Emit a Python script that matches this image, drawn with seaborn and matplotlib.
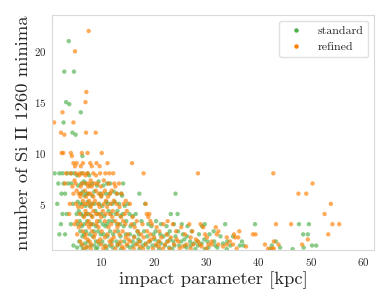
import matplotlib
matplotlib.use('Agg')
import matplotlib.pyplot as plt
from matplotlib.lines import Line2D
import pandas as pd
import seaborn as sns

# impact parameter [kpc] per number of Si II 1260 minima
standard_rows = {
    21: [3.7],
    18: [2.85, 4.7],
    15: [3.2],
    14.8: [3.8],
    14: [6.0],
    13: [2.7],
    12: [4.4],
    11.8: [5.0],
    9.7: [6.3],
    8: [1.0, 1.9, 2.5, 3.4, 4.1, 4.7, 6.2, 7.3],
    7.8: [7.6, 5.3],
    7.2: [6.6, 9.4],
    7: [1.7, 2.7, 3.6, 4.2, 6.1, 6.9, 8.2, 11.0, 11.6, 14.1],
    6.8: [5.5, 7.7, 9.1, 10.3],
    6.2: [6.4, 8.6, 12.3],
    6: [2.3, 3.0, 5.9, 7.1, 7.4, 9.7, 10.8, 11.5, 12.9, 13.7, 17.2, 24.1],
    5.8: [6.7, 8.2, 13.9, 9.9],
    5.2: [5.4, 7.3, 10.9, 12.5],
    5: [1.5, 4.5, 5.9, 6.3, 8.0, 8.6, 9.5, 11.2, 12.0, 13.3, 15.0, 18.3],
    4.8: [6.9, 7.7, 10.1, 14.4],
    4.3: [5.6, 8.8, 11.3, 13.0],
    4: [2.5, 3.3, 5.2, 6.1, 7.0, 7.4, 9.2, 9.9, 11.8, 12.7, 14.0, 15.3, 16.5, 23.2, 24.5],
    3.8: [6.5, 8.1, 10.5, 13.6, 15.9],
    3.3: [5.8, 7.2, 9.6, 11.4, 12.1, 14.7, 17.6, 20.4],
    3: [2.2, 4.1, 5.4, 6.6, 7.9, 8.3, 10.2, 11.0, 12.9, 13.5, 16.2, 18.9, 21.3, 23.8, 25.3,
        29.7, 33.6, 39.3, 47.7, 49.6],
    2.8: [6.2, 8.9, 10.7, 14.2, 15.5, 19.5, 22.4, 26.4, 29.2],
    2.3: [5.9, 7.0, 8.5, 9.3, 11.6, 13.1, 16.8, 18.1, 20.3, 23.0, 24.6, 27.2, 31.4],
    2: [1.9, 3.0, 6.6, 7.7, 9.8, 10.4, 12.2, 14.6, 15.4, 17.1, 19.9, 21.2, 22.6, 25.5, 28.6,
        30.6, 48.5, 49.4],
    1.8: [6.3, 8.3, 11.1, 13.6, 16.2, 18.7, 21.8, 24.1, 26.3, 32.7, 35.1],
    1.5: [17.0, 20.1, 23.1, 25.8, 29.6],
    1.3: [5.7, 7.4, 8.9, 10.1, 11.9, 12.8, 14.3, 15.9, 17.4, 19.2, 20.8, 22.5, 23.7, 25.2, 26.9,
          28.3, 30.2, 31.5, 34.0, 36.8, 43.3],
    1.1: [6.8, 9.5, 13.4, 16.7, 18.4, 21.3, 27.6, 29.1, 33.2],
    0.9: [4.6, 6.1, 7.9, 8.6, 10.6, 11.5, 13.0, 14.9, 16.0, 17.9, 19.7, 20.4, 22.1, 23.9, 24.8,
          25.9, 27.0, 28.4, 31.7, 34.6, 36.4, 37.1, 42.5, 50.2, 51.0],
    0.7: [5.3, 7.1, 9.2, 12.1, 15.4, 18.9, 22.9, 26.2, 30.4, 32.1, 44.1, 48.6],
    0.55: [6.4, 8.9, 10.9, 13.7, 17.2, 21.0, 23.5, 27.9, 29.75, 33.9, 42.2, 46.5],
}

refined_rows = {
    22: [7.5],
    20: [4.9],
    16: [7.06],
    15: [6.9],
    14: [2.5],
    13: [0.9, 4.6],
    12: [2.2, 7.0, 8.85],
    11.8: [2.85],
    10: [2.35, 2.65, 4.1, 6.2, 7.3, 10.0],
    9.7: [4.3],
    9: [4.6, 5.2, 6.4, 7.8, 9.0, 11.1, 15.8],
    8.7: [4.9, 6.0, 8.1, 9.6],
    8: [3.2, 4.1, 5.1, 5.85, 6.5, 7.3, 8.4, 9.7, 10.7, 11.45, 12.2, 18.0, 28.4, 42.8],
    7.8: [5.7, 8.9, 6.9],
    7.3: [4.8, 7.9, 10.4],
    7: [3.0, 5.0, 6.3, 7.1, 7.7, 8.6, 9.2, 11.3, 12.4, 13.3, 50.3],
    6.7: [4.4, 6.0, 7.4, 8.1, 9.8, 12.6],
    6.3: [5.2, 6.8, 8.9, 10.6, 11.9],
    6: [4.6, 5.6, 6.1, 7.5, 7.9, 9.4, 10.1, 11.6, 12.9, 13.8, 47.6, 49.1],
    5.7: [5.9, 7.0, 8.4, 9.9, 11.2],
    5.3: [6.4, 7.6, 8.7, 10.8, 12.3, 14.6],
    5: [3.9, 5.1, 6.7, 7.3, 8.2, 9.3, 10.4, 11.7, 12.8, 14.2, 15.4, 18.4, 53.8],
    4.7: [5.5, 6.2, 7.9, 9.6, 11.0, 13.4],
    4.3: [6.9, 8.4, 10.2, 12.1, 14.8],
    4: [3.8, 5.8, 7.0, 7.8, 8.9, 9.5, 10.7, 11.5, 13.0, 14.4, 18.6, 19.1, 52.6],
    3.7: [6.6, 8.2, 9.9, 12.0, 13.7, 15.9, 18.9],
    3.3: [5.2, 7.5, 9.1, 10.6, 12.6, 14.1, 16.7, 19.3, 22.6],
    3: [4.8, 6.0, 7.2, 8.0, 9.0, 11.8, 13.2, 14.5, 15.7, 17.8, 19.6, 21.8, 23.6, 26.75, 28.9,
        43.3, 46.2, 54.1, 55.4],
    2.7: [5.6, 7.6, 9.4, 11.3, 13.0, 16.3, 20.5, 25.2, 29.4, 31.8],
    2.3: [6.4, 8.1, 10.0, 12.5, 14.0, 16.9, 18.7, 21.0, 24.2, 27.3, 32.3, 36.3],
    2: [5.3, 7.0, 8.7, 11.1, 13.4, 15.0, 17.5, 19.3, 22.4, 25.9, 29.75, 32.0, 35.3, 38.9, 39.4, 53.3],
    1.7: [6.8, 8.5, 10.6, 12.3, 14.6, 16.2, 18.0, 20.0, 21.4, 23.2, 27.0, 30.1, 33.9, 35.5, 36.1],
    1.5: [7.3, 9.7, 11.9, 15.1, 19.4, 24.3, 28.0, 49.4],
    1.3: [5.9, 7.7, 9.3, 11.5, 13.6, 15.4, 17.2, 19.0, 21.0, 22.7, 24.6, 28.4, 31.0, 34.5, 42.9],
    1: [6.3, 8.0, 9.9, 11.9, 13.1, 14.8, 16.6, 18.4, 20.4, 22.1, 23.8, 26.2, 27.5, 28.8, 30.4,
        31.0, 32.3, 33.9, 35.1, 41.2, 43.8, 48.3],
    0.8: [7.2, 10.8, 13.9, 17.3, 20.9, 25.5, 29.1, 33.2, 37.6],
    0.6: [6.7, 7.9, 10.3, 12.6, 14.2, 16.1, 17.9, 19.8, 21.7, 23.0, 24.9, 27.0, 30.0, 35.8,
          41.8, 42.6, 42.9],
}

colors = {'standard': '#4daf4a', 'refined': '#ff7f00'}


def to_frame(rows, name):
    recs = [(x, y) for y, xs in rows.items() for x in xs]
    df = pd.DataFrame(recs, columns=['b', 'n'])
    df['run'] = name
    return df


df = pd.concat([to_frame(standard_rows, 'standard'), to_frame(refined_rows, 'refined')])

sns.set_style('white')
plt.rcParams['font.family'] = 'serif'
plt.rcParams['font.serif'] = ['cmr10']
plt.rcParams['mathtext.fontset'] = 'cm'
plt.rcParams['axes.formatter.use_mathtext'] = True

fig = plt.figure(figsize=(3.9, 3.04), dpi=100)
ax = fig.add_axes([0.1326, 0.1776, 0.8271, 0.7731])

sns.scatterplot(data=df, x='b', y='n', hue='run', palette=colors, s=10,
                alpha=0.65, linewidth=0, legend=False, ax=ax)

ax.set_xlim(0.44, 62.1)
ax.set_ylim(0.46, 23.57)
ax.set_xticks([10, 20, 30, 40, 50, 60])
ax.set_yticks([5, 10, 15, 20])
ax.tick_params(labelsize=7.9, length=0, pad=4, colors='.15')
ax.set_xlabel('impact parameter [kpc]', fontsize=13.4, labelpad=3, color='.15')
ax.set_ylabel('number of Si II 1260 minima', fontsize=13.4, labelpad=2, color='.15')
for sp in ax.spines.values():
    sp.set_color('.85')

handles = [Line2D([], [], ls='', marker='o', ms=3.2, mec='none', mfc=colors[k]) for k in colors]
ax.legend(handles, list(colors), loc='upper right', fontsize=8.6, frameon=True,
          edgecolor='.85', fancybox=True)

fig.savefig('out.png', dpi=100)
